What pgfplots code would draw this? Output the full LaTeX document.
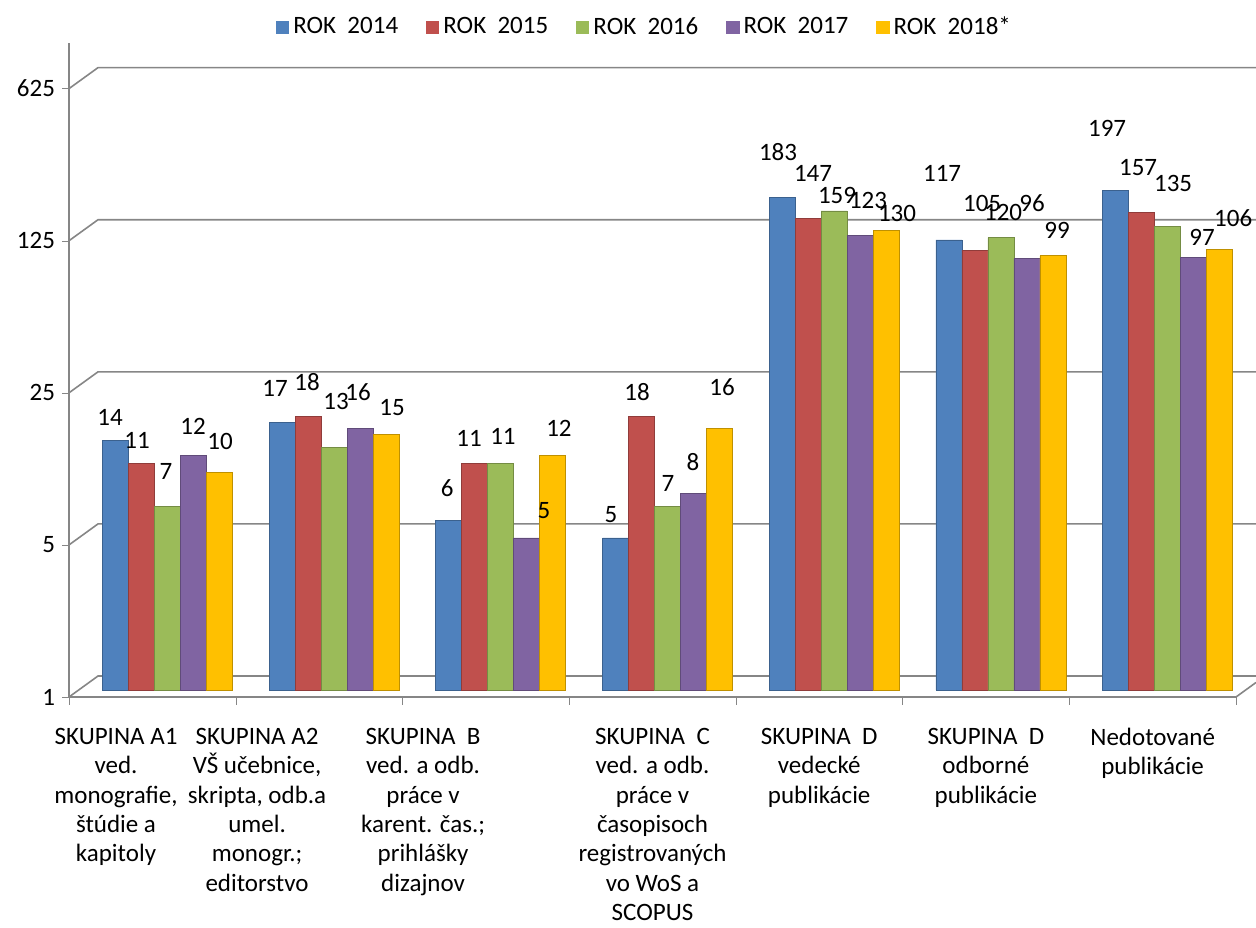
\documentclass[border=0pt]{standalone}
\usepackage{pgfplots}
\pgfplotsset{compat=1.18}
\usepackage{pgfplotstable}
\usepackage{fontspec}
\setmainfont{Carlito}
\definecolor{axgray}{RGB}{134,134,134}
\definecolor{cA}{RGB}{79,129,189}
\definecolor{cB}{RGB}{192,80,77}
\definecolor{cC}{RGB}{155,187,89}
\definecolor{cD}{RGB}{128,100,162}
\definecolor{cE}{RGB}{255,192,0}
\pgfplotstableread{
x y14 y15 y16 y17 y18
0 14 11 7 12 10
1 17 18 13 16 15
2 6 11 11 5 12
3 5 18 7 8 16
4 183 147 159 123 130
5 117 105 120 96 99
6 197 157 135 97 106
}\data
% label positions (x, y) and shown value
\pgfplotstableread{
lx ly v
-0.254 19.36 14
-0.092 15.17 11
0.082 10.82 7
0.244 17.60 12
0.406 15.01 10
0.736 26.3 17
0.928 28.0 18
1.102 22.7 13
1.234 25.2 16
1.438 21.5 15
1.768 9.13 6
1.900 15.5 11
2.103 15.7 11
2.349 7.23 5
2.439 17.2 12
2.751 6.86 5
2.907 25.2 18
3.093 9.62 7
3.243 12.02 8
3.417 26.6 16
3.753 319.5 183
3.963 256 147
4.107 202.6 159
4.293 192.3 123
4.467 167.5 130
4.737 256 117
4.977 186.2 105
5.103 169.4 120
5.277 186.2 96
5.427 139.9 99
5.727 411.8 197
5.913 272.6 157
6.123 230.2 135
6.297 129.9 97
6.483 158.9 106
}\labels
\begin{document}
\begin{tikzpicture}[font=\fontsize{12.5}{14.7}\selectfont]
\useasboundingbox (-34.5pt,-115pt) rectangle (593.5pt,348.5pt);
\begin{axis}[
  at={(0pt,0pt)}, anchor=south west,
  scale only axis, width=583.5pt, height=327pt,
  xmin=-0.5, xmax=6.5, ymin=1, ymax=1013,
  ymode=log, log basis y=5,
  ytick={1,5,25,125,625}, yticklabels={1,5,25,125,625},
  xtick={-0.218,0.628,1.624,3,4,5,6},
  xticklabels={
    {SKUPINA A1\\ved.\\monografie,\\štúdie a\\kapitoly},
    {SKUPINA A2\\VŠ učebnice,\\skripta, odb.a\\umel.\\monogr.;\\editorstvo},
    {SKUPINA\ \ B\\ved. a odb.\\práce v\\karent. čas.;\\prihlášky\\dizajnov},
    {SKUPINA\ \ C\\ved. a odb.\\práce v\\časopisoch\\registrovaných\\vo WoS a\\SCOPUS},
    {SKUPINA\ \ D\\vedecké\\publikácie},
    {SKUPINA\ \ D\\odborné\\publikácie},
    {Nedotované\\publikácie}},
  minor xtick={-0.5,0.5,...,6.5},
  major x tick style={draw=none},
  minor x tick style={axgray},
  minor tick length=4pt,
  major tick length=3.5pt,
  tick align=outside,
  y tick style={axgray},
  xticklabel style={align=center, yshift=-8.5pt, anchor=north},
  axis lines*=left,
  axis line style={axgray, line width=0.8pt},
  clip=false,
  /pgf/number format/assume math mode=true,
  legend style={at={(rel axis cs:0.494,1.024)}, anchor=center, legend columns=5, draw=none, fill=none,
    /tikz/every even column/.append style={column sep=12pt}},
  legend image code/.code={\fill[#1] (0pt,-3.3pt) rectangle (6.6pt,3.3pt);},
]
\draw[axgray, line width=0.8pt] (axis cs:-0.5,1) -- (axis cs:-0.326,1.249) -- (axis cs:6.62,1.249);
\draw[axgray, line width=0.8pt] (axis cs:-0.5,5) -- (axis cs:-0.326,6.245) -- (axis cs:6.62,6.245);
\draw[axgray, line width=0.8pt] (axis cs:-0.5,25) -- (axis cs:-0.326,31.22) -- (axis cs:6.62,31.22);
\draw[axgray, line width=0.8pt] (axis cs:-0.5,125) -- (axis cs:-0.326,156.1) -- (axis cs:6.62,156.1);
\draw[axgray, line width=0.8pt] (axis cs:-0.5,625) -- (axis cs:-0.326,780.6) -- (axis cs:6.62,780.6);
\draw[axgray, line width=0.8pt] (axis cs:6.5,1) -- (axis cs:6.62,1.166);
\addplot[ybar, bar width=13pt, bar shift=-18.5pt, yshift=3.5pt, draw=cA!75!black, line width=0.4pt, fill=cA, forget plot] table[x=x,y=y14]{\data};
\addplot[ybar, bar width=13pt, bar shift=-5.5pt, yshift=3.5pt, draw=cB!75!black, line width=0.4pt, fill=cB, forget plot] table[x=x,y=y15]{\data};
\addplot[ybar, bar width=13pt, bar shift=7.5pt, yshift=3.5pt, draw=cC!75!black, line width=0.4pt, fill=cC, forget plot] table[x=x,y=y16]{\data};
\addplot[ybar, bar width=13pt, bar shift=20.5pt, yshift=3.5pt, draw=cD!75!black, line width=0.4pt, fill=cD, forget plot] table[x=x,y=y17]{\data};
\addplot[ybar, bar width=13pt, bar shift=33.5pt, yshift=3.5pt, draw=cE!75!black, line width=0.4pt, fill=cE, forget plot] table[x=x,y=y18]{\data};
\addplot[draw=none, mark=none, forget plot, only marks, mark size=0pt,
  point meta=explicit,
  nodes near coords={\pgfmathprintnumber{\pgfplotspointmeta}},
  every node near coord/.append style={anchor=center, text=black, inner sep=0.5pt}]
  table[x=lx, y=ly, meta=v]{\labels};
\addlegendimage{fill=cA, draw=none}\addlegendentry{ROK\ \ 2014}
\addlegendimage{fill=cB, draw=none}\addlegendentry{ROK\ \ 2015}
\addlegendimage{fill=cC, draw=none}\addlegendentry{ROK\ \ 2016}
\addlegendimage{fill=cD, draw=none}\addlegendentry{ROK\ \ 2017}
\addlegendimage{fill=cE, draw=none}\addlegendentry{ROK\ \ 2018*}
\end{axis}
\end{tikzpicture}
\end{document}
